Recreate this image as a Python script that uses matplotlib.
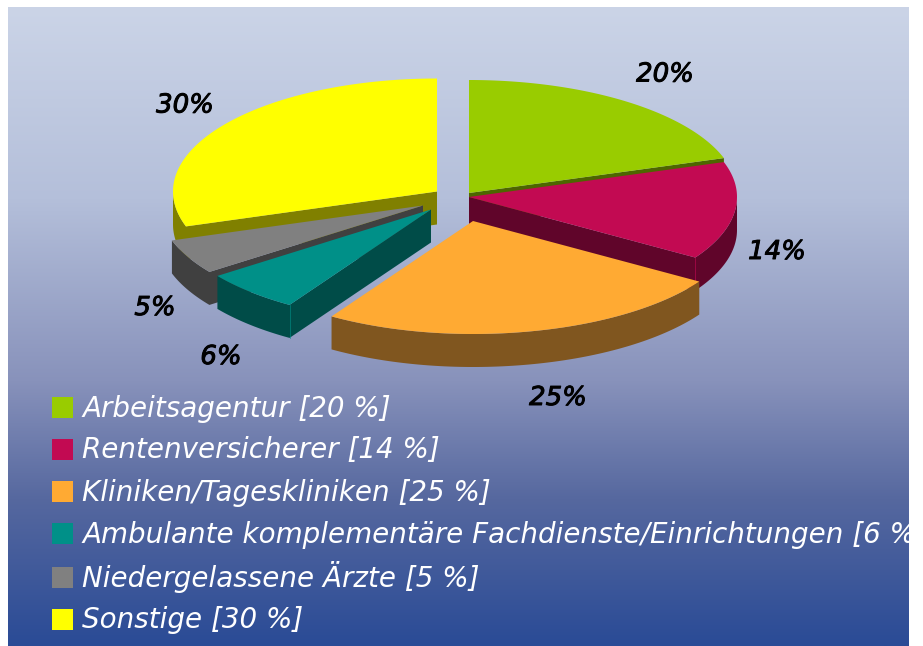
import matplotlib
matplotlib.use('Agg')
import matplotlib.pyplot as plt
import matplotlib.patheffects as pe
from matplotlib.patches import Rectangle
import numpy as np

labels = ['Arbeitsagentur', 'Rentenversicherer', 'Kliniken/Tageskliniken',
          'Ambulante komplementäre Fachdienste/Einrichtungen', 'Niedergelassene Ärzte', 'Sonstige']
values = [20, 14, 25, 6, 5, 30]
top_colors = ['#99cc00', '#c20a52', '#ffaa33', '#009088', '#808080', '#ffff00']
side_colors = ['#4d6600', '#60052a', '#80561f', '#004c48', '#404040', '#808000']

# layout, all in pixels of the 923x646 picture
CENTER = (453, 205)
A_RIGHT, A_LEFT, B = 268, 264, 113  # ellipse semi axes, left half is a bit narrower
DEPTH = 33
shift = [(16, -12), (16, -8), (20, 16), (-22, 4.5), (-30, 0.5), (-16, -13.5)]  # explode per slice
draw_order = [5, 0, 4, 3, 1, 2]  # back to front
pct_pos = [(665, 74.5), (777, 252), (558, 398), (221, 357), (155, 308), (185, 105.5)]
legend_y = [407.5, 449.5, 491.5, 533.5, 577.5, 619.5]
legend_base = [417, 458.5, 501, 543, 587, 628]

fig = plt.figure(figsize=(9.23, 6.46), dpi=100)
ax = fig.add_axes([0, 0, 1, 1])
ax.axis('off')

# background gradient
rows = np.linspace(0, 1, 640)
stops = [0, 0.3, 0.585, 0.77, 1]
stop_rgb = np.array([[203, 212, 231], [180, 191, 218], [136, 146, 187], [86, 104, 159], [42, 75, 150]]) / 255
grad = np.stack([np.interp(rows, stops, stop_rgb[:, i]) for i in range(3)], axis=1)[:, None, :]
ax.imshow(grad, extent=(8, 909, 646, 7), aspect='auto', zorder=0, interpolation='bilinear')
ax.set_xlim(0, 923)
ax.set_ylim(646, 0)
clip = Rectangle((8, 7), 901, 639, transform=ax.transData)

# pie slices, angle clockwise from the top
edges = np.radians(np.cumsum([0] + values) * 3.6)
for i in draw_order:
	cx = CENTER[0] + shift[i][0]
	cy = CENTER[1] + shift[i][1]
	t = np.linspace(edges[i], edges[i + 1], 80)
	s = np.sin(t)
	xs = np.r_[cx, cx + np.where(s > 0, A_RIGHT, A_LEFT) * s]
	ys = np.r_[cy, cy - B * np.cos(t)]
	# only the lower chain of the outline shows a wall
	start = np.argmax(xs)
	xr = np.roll(xs, -start)
	yr = np.roll(ys, -start)
	end = np.argmin(xr) + 1
	wx = np.r_[xr[:end], xr[:end][::-1]]
	wy = np.r_[yr[:end], yr[:end][::-1] + DEPTH]
	ax.fill(wx, wy, color=side_colors[i], lw=0, zorder=2)
	ax.fill(xs, ys, color=top_colors[i], lw=0, zorder=2)
	# thin light line on the wall corner
	if labels[i] == 'Rentenversicherer':
		ax.plot([xs[-1], xs[-1]], [ys[-1], ys[-1] + DEPTH], color=top_colors[i], lw=0.6, alpha=0.7, zorder=2)
	if labels[i].startswith('Ambulante'):
		ax.plot([xs[1], xs[1]], [ys[1], ys[1] + DEPTH], color=top_colors[i], lw=0.6, alpha=0.7, zorder=2)

# percent labels
for v, (x, y) in zip(values, pct_pos):
	ax.text(x, y, f'{v}%', fontsize=18.7, style='italic', color='black', ha='center', va='center', zorder=3,
		path_effects=[pe.withStroke(linewidth=0.7, foreground='black')])

# legend
for lab, v, col, y, base in zip(labels, values, top_colors, legend_y, legend_base):
	ax.add_patch(Rectangle((52, y - 10.5), 21, 21, facecolor=col, edgecolor='none', zorder=3))
	txt = ax.text(82, base, f'{lab} [{v} %]', fontsize=20, style='italic', color='white',
		ha='left', va='baseline', zorder=3)
	txt.set_clip_path(clip)

fig.savefig('out.png', dpi=100)
